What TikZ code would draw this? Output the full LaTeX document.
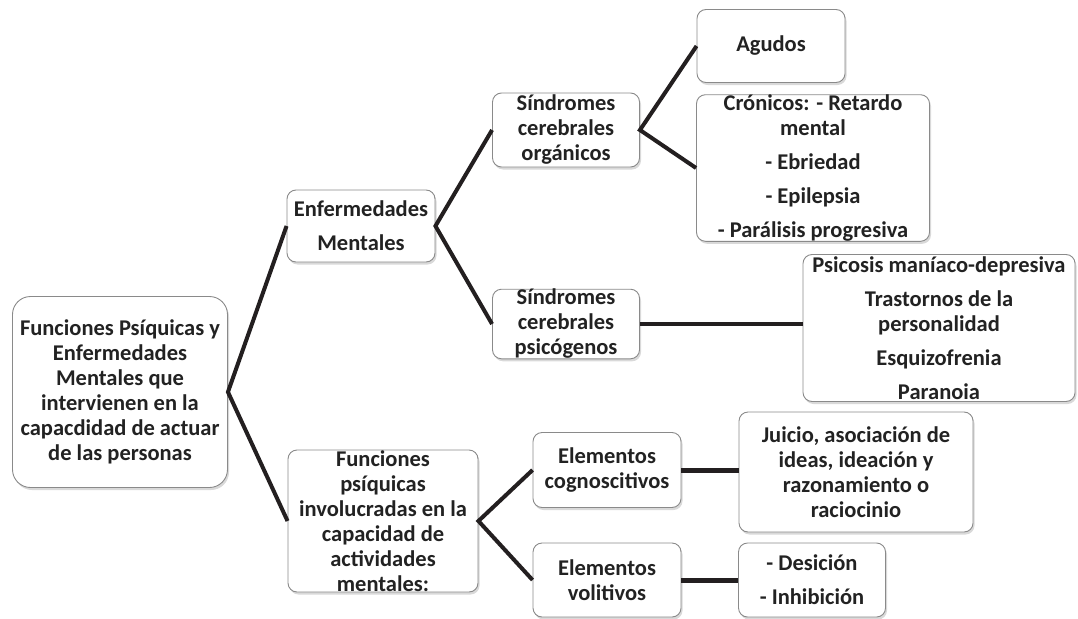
\documentclass[tikz,border=0pt]{standalone}
\usepackage{fontspec}
\setmainfont{Carlito}
\usepackage{xcolor}
\usetikzlibrary{shadows}

\definecolor{boxline}{HTML}{8A8A8A}
\definecolor{inktext}{HTML}{222222}
\definecolor{inkline}{HTML}{231F20}

\tikzset{
  box/.style={draw=boxline, line width=0.9pt, rounded corners=9pt, fill=white,
    drop shadow={opacity=0.3, shadow xshift=1.5pt, shadow yshift=-2.5pt},
    align=center, inner sep=0pt, text=inktext,
    font=\bfseries\fontsize{22.5}{25}\selectfont},
  link/.style={draw=inkline, line width=4pt},
  boldlink/.style={draw=inkline, line width=5pt}
}

\begin{document}
\begin{tikzpicture}[x=1pt, y=-1pt]
  \useasboundingbox (0,0) rectangle (1078,618);

  \node[box, rounded corners=18pt, minimum width=215pt, minimum height=191pt] at (120, 392) (root)
    {Funciones Psíquicas y\\Enfermedades\\Mentales que\\intervienen en la\\capacdidad de actuar\\de las personas};
  \node[box, minimum width=148pt, minimum height=72pt] at (361, 226) (enf)
    {Enfermedades\\[9pt]Mentales};
  \node[box, minimum width=190pt, minimum height=142pt] at (383, 521) (fun)
    {Funciones\\psíquicas\\involucradas en la\\capacidad de\\actividades\\mentales:};

  \node[box, minimum width=147pt, minimum height=74pt] at (566, 130) (org)
    {Síndromes\\cerebrales\\orgánicos};
  \node[box, minimum width=147pt, minimum height=69pt] at (566, 324) (psi)
    {Síndromes\\cerebrales\\psicógenos};
  \node[box, minimum width=148pt, minimum height=75pt] at (607, 470) (cog)
    {Elementos\\cognoscitivos};
  \node[box, minimum width=148pt, minimum height=74pt] at (607, 580) (vol)
    {Elementos\\volitivos};

  \node[box, minimum width=148pt, minimum height=73pt] at (771, 46) (agu) {Agudos};
  \node[box, minimum width=233pt, minimum height=146pt] at (813, 168) (cro)
    {Crónicos: - Retardo\\mental\\[9pt]- Ebriedad\\[9pt]- Epilepsia\\[9pt]- Parálisis progresiva};
  \node[box, minimum width=272pt, minimum height=147pt] at (939, 328) (psy)
    {Psicosis maníaco-depresiva\\[9pt]Trastornos de la\\personalidad\\[9pt]Esquizofrenia\\[9pt]Paranoia};
  \node[box, minimum width=234pt, minimum height=120pt] at (856, 472) (jui)
    {Juicio, asociación de\\ideas, ideación y\\razonamiento o\\raciocinio};
  \node[box, minimum width=147pt, minimum height=74pt] at (812, 580) (des)
    {- Desición\\[9pt]- Inhibición};

  % connectors
  \draw[link] (enf.west) -- (root.east) -- (fun.west);
  \draw[link] (org.west) -- (enf.east) -- (psi.west);
  \draw[link] (agu.west) -- (org.east) -- (cro.west);
  \draw[link] (psi.east) -- (psy.west |- psi.east);
  \draw[link] (cog.west) -- (fun.east) -- (vol.west);
  \draw[boldlink] (cog.east) -- (jui.west |- cog.east);
  \draw[boldlink] (vol.east) -- (des.west);
\end{tikzpicture}
\end{document}
